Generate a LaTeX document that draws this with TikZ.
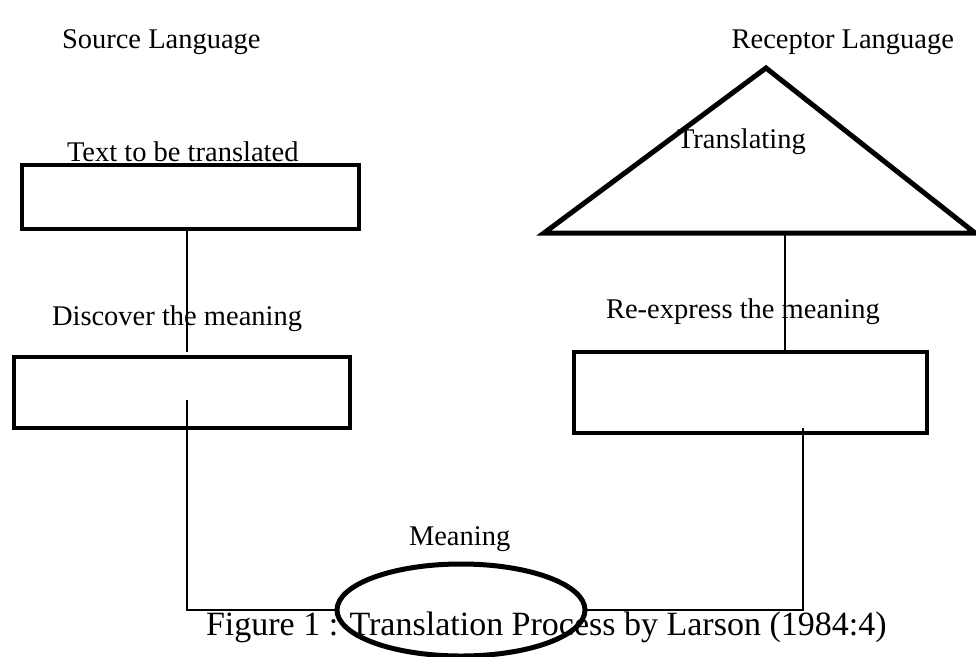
\documentclass[tikz,border=0pt]{standalone}
\usepackage{fontspec}
\setmainfont{Liberation Serif}
\usetikzlibrary{shapes.geometric}
\begin{document}
\begin{tikzpicture}[x=1pt,y=-1pt,
  lbl/.style={inner sep=0pt,outer sep=0pt,font=\fontsize{28.5}{34}\selectfont,anchor=base west},
  captext/.style={inner sep=0pt,outer sep=0pt,font=\fontsize{34}{40}\selectfont,anchor=base west},
  boxnode/.style={draw,line width=4pt,inner sep=0pt,outer sep=0pt},
  tri/.style={draw,line width=5pt},
  conn/.style={draw,line width=2pt},
  ovalnode/.style={draw,ellipse,line width=5pt,inner sep=0pt,outer sep=0pt,minimum width=248pt,minimum height=92pt}]
\useasboundingbox (0,0) rectangle (976,656);
% labels
\node[lbl] (src) at (62,48) {Source Language};
\node[lbl,anchor=base east] (rec) at (954,48) {Receptor Language};
\node[lbl] (ttbt) at (67,161) {Text to be translated};
\node[lbl] (trl) at (677,148) {Translating};
\node[lbl] (disc) at (52,325) {Discover the meaning};
\node[lbl] (reex) at (606,318) {Re-express the meaning};
\node[lbl] (mlbl) at (409,545) {Meaning};
\node[captext] (caption) at (206,635) {Figure 1 : Translation Process by Larson (1984:4)};
% boxes
\node[boxnode,minimum width=337.5pt,minimum height=64pt] (box1) at (190.25,197) {};
\node[boxnode,minimum width=336pt,minimum height=71pt] (box2) at (182,392.5) {};
\node[boxnode,minimum width=353pt,minimum height=81pt] (box3) at (750,392) {};
% triangle
\coordinate (tA) at (766,68);
\coordinate (tL) at (544,233);
\coordinate (tR) at (975,233);
\draw[tri] (tA) -- (tL) -- (tR) -- cycle;
% ellipse
\node[ovalnode] (mean) at (461,610) {};
% connectors
\coordinate (a1) at (187,352);
\draw[conn] (box1.south -| a1) -- (a1);
\coordinate (a2) at (187,400);
\draw[conn] (a2) |- (mean.west);
\coordinate (tb) at (785,233);
\draw[conn] (tb) -- (box3.north -| tb);
\coordinate (a4) at (803,428);
\draw[conn] (a4) |- (mean.east);
\end{tikzpicture}
\end{document}
